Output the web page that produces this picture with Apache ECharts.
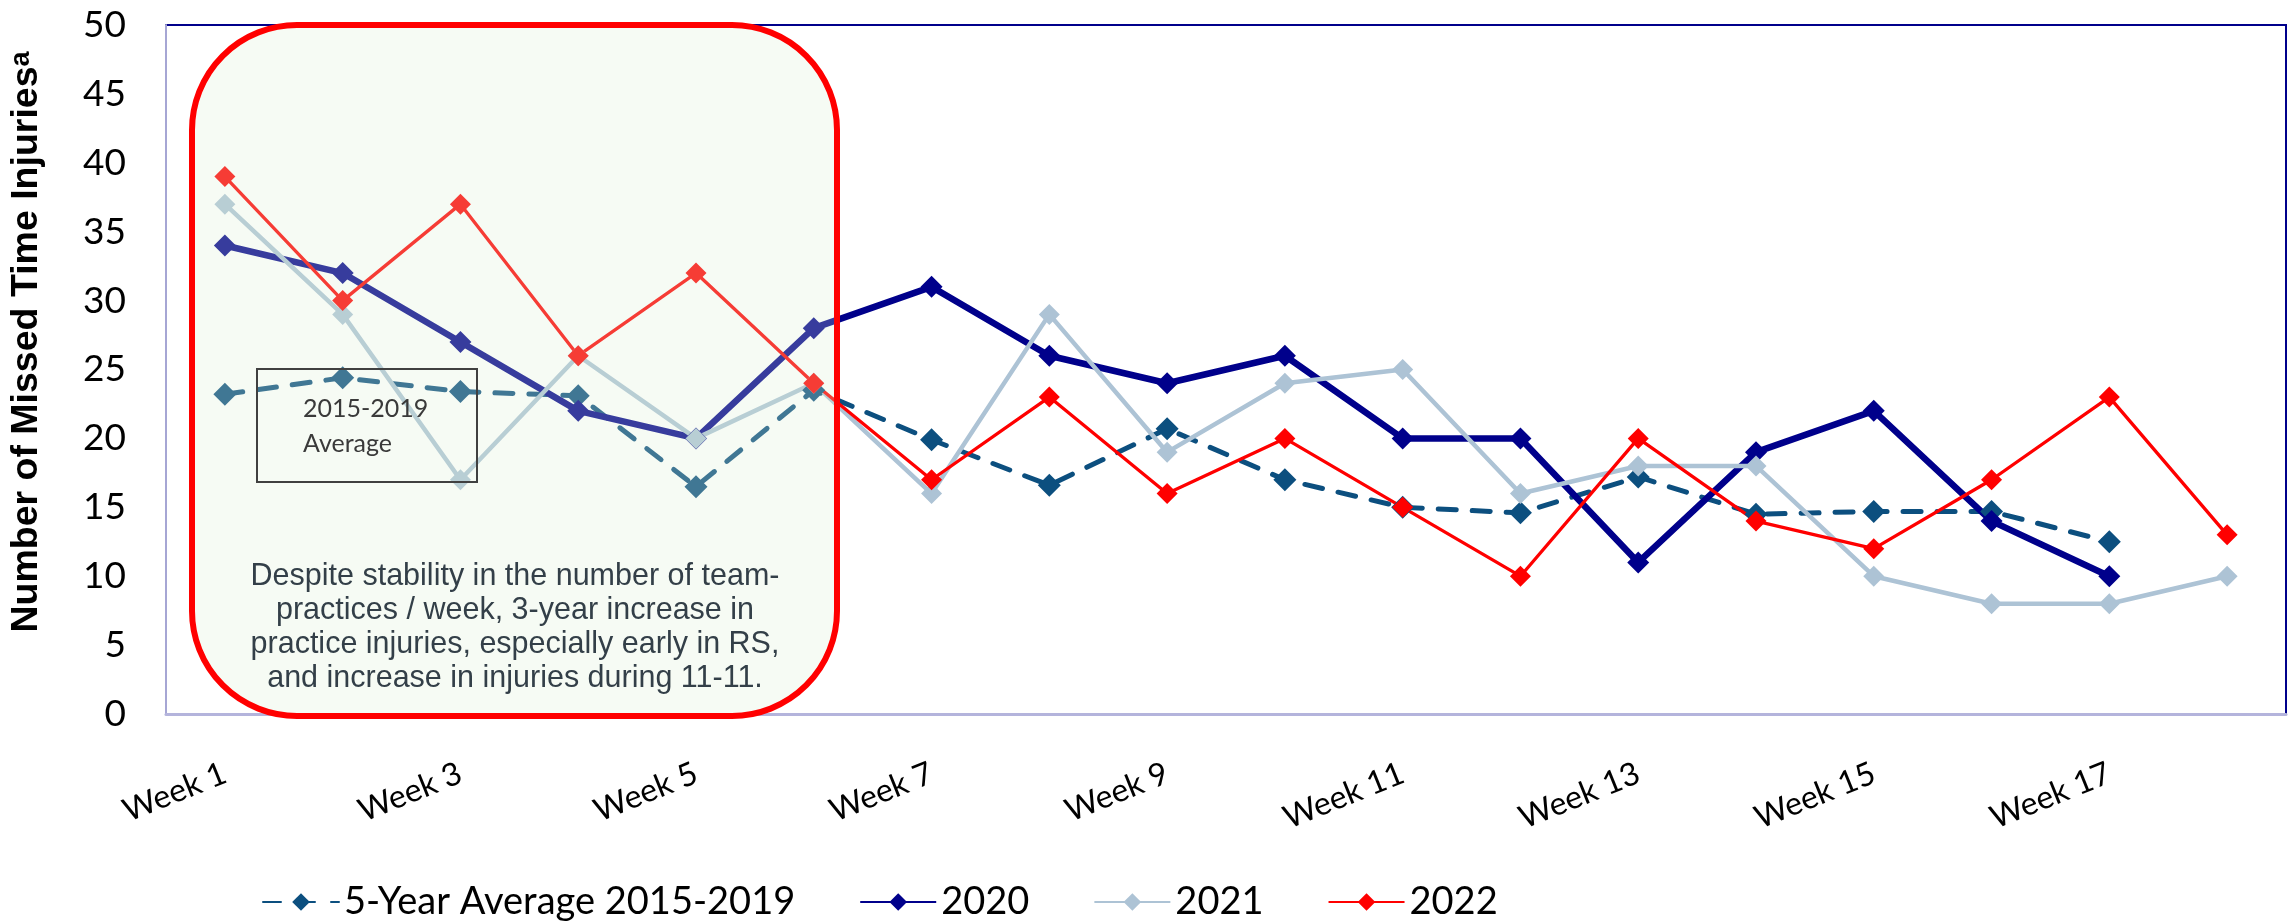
<!DOCTYPE html>
<html>
<head>
<meta charset="utf-8">
<script src="https://cdn.jsdelivr.net/npm/echarts@6/dist/echarts.min.js"></script>
<style>
  html, body { margin: 0; padding: 0; background: #fff; }
  #chart { width: 2293px; height: 922px; }
</style>
</head>
<body>
<div id="chart"></div>
<script>
// weekly counts
var weeks = ['Week 1', 'Week 2', 'Week 3', 'Week 4', 'Week 5', 'Week 6', 'Week 7', 'Week 8', 'Week 9',
             'Week 10', 'Week 11', 'Week 12', 'Week 13', 'Week 14', 'Week 15', 'Week 16', 'Week 17', 'Week 18'];
var avg5yr = [23.2, 24.4, 23.4, 23.1, 16.5, 23.5, 19.9, 16.6, 20.7, 17.0, 15.0, 14.6, 17.2, 14.5, 14.7, 14.7, 12.5, null];
var y2020 = [34, 32, 27, 22, 20, 28, 31, 26, 24, 26, 20, 20, 11, 19, 22, 14, 10, null];
var y2021 = [37, 29, 17, 26, 20, 24, 16, 29, 19, 24, 25, 16, 18, 18, 10, 8, 8, 10];
var y2022 = [39, 30, 37, 26, 32, 24, 17, 23, 16, 20, 15, 10, 20, 14, 12, 17, 23, 13];
var seriesNames = ['5-Year Average 2015-2019', '2020', '2021', '2022'];
var yMin = 0, yMax = 50, yStep = 5;

var noteLines = [
    'Despite stability in the number of team-',
    'practices / week, 3-year increase in',
    'practice injuries, especially early in RS,',
    'and increase in injuries during 11-11.'
];

var chart = echarts.init(document.getElementById('chart'));

function lineSeries(name, data, color, width, size, dash) {
    return {
        name: name,
        type: 'line',
        data: data,
        symbol: 'diamond',
        symbolSize: size,
        connectNulls: false,
        lineStyle: { color: color, width: width, type: dash || 'solid', cap: dash ? 'round' : 'butt' },
        itemStyle: { color: color },
        emphasis: { disabled: true }
    };
}

var option = {
    animation: false,
    backgroundColor: '#fff',
    grid: {
        left: 166, top: 25, width: 2120, height: 689,
        show: true, borderColor: '#00008b', borderWidth: 2
    },
    legend: {
        data: seriesNames,
        left: 257, top: 878,
        itemWidth: 76, itemHeight: 22, itemGap: 64,
        textStyle: { fontFamily: 'Lato', fontSize: 38, color: '#000' }
    },
    xAxis: {
        type: 'category',
        data: weeks,
        boundaryGap: true,
        axisLine: { lineStyle: { color: '#b4b4dc', width: 3 } },
        axisTick: { show: false },
        splitLine: { show: false },
        axisLabel: { interval: 1, rotate: 22, margin: 58, fontFamily: 'Lato', fontSize: 32, color: '#000' }
    },
    yAxis: {
        type: 'value',
        min: yMin, max: yMax, interval: yStep,
        axisLine: { show: true, lineStyle: { color: '#a6a6d4', width: 2 } },
        axisTick: { show: false },
        splitLine: { show: false },
        axisLabel: { margin: 40, fontFamily: 'Lato', fontSize: 37, color: '#000' }
    },
    series: [
        lineSeries(seriesNames[0], avg5yr, '#0c4f7f', 5, 23, [18, 16]),
        lineSeries(seriesNames[1], y2020, '#00008b', 6.5, 22),
        lineSeries(seriesNames[2], y2021, '#adc3d5', 4.5, 21),
        lineSeries(seriesNames[3], y2022, '#ff0000', 3.3, 21)
    ],
    graphic: [
        {
            type: 'rect', z: 100,
            shape: { x: 192, y: 25, width: 645, height: 691, r: 105 },
            style: { fill: 'rgba(220,238,212,0.25)', stroke: '#ff0000', lineWidth: 6 }
        },
        {
            type: 'rect', z: 101,
            shape: { x: 257, y: 369, width: 220, height: 113 },
            style: { fill: 'none', stroke: '#404040', lineWidth: 2 }
        },
        {
            type: 'text', z: 102, x: 303, y: 391,
            style: {
                text: '2015-2019\nAverage', fontFamily: 'Lato', fontSize: 25, lineHeight: 35,
                fill: '#3a3a3a', align: 'left', verticalAlign: 'top'
            }
        },
        {
            type: 'text', z: 102, x: 515, y: 628,
            style: {
                text: noteLines.join('\n'), fontFamily: 'Liberation Sans', fontSize: 30.5, lineHeight: 34,
                fill: '#333f48', align: 'center', verticalAlign: 'middle'
            }
        },
        {
            type: 'text', z: 102, x: 27, y: 342, rotation: Math.PI / 2,
            style: {
                text: 'Number of Missed Time Injuries{s|a}',
                fontFamily: 'Liberation Sans', fontWeight: 'bold', fontSize: 37.5, fill: '#000',
                align: 'center', verticalAlign: 'middle',
                rich: {
                    s: { fontFamily: 'Liberation Sans', fontWeight: 'bold', fontSize: 27, fill: '#000', verticalAlign: 'top' }
                }
            }
        }
    ]
};

chart.setOption(option);
</script>
</body>
</html>
